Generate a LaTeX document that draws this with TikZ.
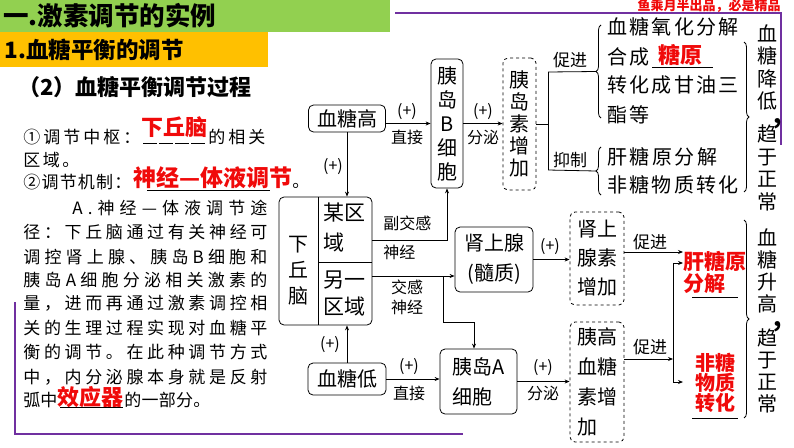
\documentclass[tikz,border=0pt]{standalone}
\usepackage{fontspec}
\setmainfont{Noto Sans CJK SC}
\usetikzlibrary{arrows.meta,calc,decorations.pathreplacing}
\definecolor{bargreen}{RGB}{146,208,80}
\definecolor{barorange}{RGB}{255,192,0}
\definecolor{keyred}{RGB}{240,10,10}
\definecolor{framepurple}{RGB}{112,48,160}
\newcommand\fs[2]{\fontsize{#1}{#2}\selectfont}
% spread the characters of a line over a given width
\ExplSyntaxOn
\NewDocumentCommand\spread{mm}{\hbox~to~#1{\tl_map_inline:nn{#2}{##1\hfil}\unskip}}
\ExplSyntaxOff
\tikzset{
  solidbox/.style={draw, rounded corners=5pt, inner sep=0pt, align=center, font=\fs{20}{25}},
  dashbox/.style={solidbox, dashed},
  lbl/.style={inner sep=0pt, font=\fs{16}{18}},
  keyword/.style={inner sep=0pt, text=keyred, font=\fs{22}{24}\bfseries},
  bodytext/.style={inner sep=0pt, anchor=west, font=\fs{17}{20}},
  listtext/.style={inner sep=0pt, anchor=west, font=\fs{20}{22}},
  comma/.style={inner sep=0pt, anchor=base, text height=5pt, text depth=6pt, font=\fs{24}{24}\bfseries},
  arr/.style={-{Stealth[length=5pt,width=4pt]}},
  curly/.style={decorate, decoration={brace, amplitude=5pt}},
  purpleframe/.style={framepurple, line width=2.2pt},
}
\begin{document}
\begin{tikzpicture}[x=1pt,y=-1pt, line width=0.8pt]
\useasboundingbox (0,0) rectangle (794,447);

% Title bars
\fill[bargreen] (0,0) rectangle (390,32);
\fill[barorange] (0,32) rectangle (268,67);
\node[inner sep=0pt, anchor=west, font=\fs{25.5}{27}\bfseries] (title) at (3,16) {一.激素调节的实例};
\node[inner sep=0pt, anchor=west, font=\fs{22.5}{24}\bfseries] (sub) at (4,50) {1.血糖平衡的调节};
\node[inner sep=0pt, anchor=west, font=\fs{22}{24}\bfseries] (sec) at (18,87) {（2）血糖平衡调节过程};
\node[inner sep=0pt, anchor=east, text=keyred, font=\fs{13}{13}\bfseries] (mark) at (781,6) {鱼乘月半出品，必是精品};

% Purple frames
\draw[purpleframe] (395,13) -- (781,13) -- (781,145);
\draw[purpleframe] (15,302) -- (15,434) -- (463,434);

% Left text
\node[bodytext] (c1) at (23,137) {\spread{117pt}{①调节中枢：}};
\node[keyword] (hyp) at (174,127) {下丘脑};
\draw[dash pattern=on 14pt off 2pt] (143,143) -- (206,143);
\node[bodytext] (c1b) at (208,137) {\spread{57pt}{的相关}};
\node[bodytext] (c1c) at (23,160) {\spread{56pt}{区域。}};
\node[bodytext] (c2) at (23,182) {\spread{108pt}{②调节机制：}};
\node[keyword, font=\fs{23}{25}\bfseries] (mech) at (213,178) {神经—体液调节};
\draw (147,190) -- (270,190);
\node[bodytext] (c2b) at (292,186) {。};

\node[bodytext] (p1) at (72,208) {\spread{195pt}{A.神经—体液调节途}};
\node[bodytext] (p2) at (23,232) {\spread{244pt}{径：下丘脑通过有关神经可}};
\node[bodytext] (p3) at (23,257) {\spread{244pt}{调控肾上腺、胰岛B细胞和}};
\node[bodytext] (p4) at (23,280) {\spread{244pt}{胰岛A细胞分泌相关激素的}};
\node[bodytext] (p5) at (23,303) {\spread{244pt}{量，进而再通过激素调控相}};
\node[bodytext] (p6) at (23,328) {\spread{244pt}{关的生理过程实现对血糖平}};
\node[bodytext] (p7) at (23,352) {\spread{244pt}{衡的调节。在此种调节方式}};
\node[bodytext] (p8) at (23,377) {\spread{244pt}{中，内分泌腺本身就是反射}};
\node[bodytext] (p9) at (23,400) {\spread{34pt}{弧中}};
\node[keyword] (eff) at (90,397) {效应器};
\draw (60,407) -- (123,407);
\node[bodytext] (p9b) at (124,400) {\spread{86pt}{的一部分。}};

% Boxes
\node[solidbox, minimum width=77pt, minimum height=27pt] (gao) at (347,118.5) {血糖高};
\node[solidbox, minimum width=32pt, minimum height=129pt, font=\fs{20}{24}] (Bcell) at (447,123.5) {胰\\岛\\B\\细\\胞};
\node[dashbox, minimum width=33pt, minimum height=132pt, font=\fs{20}{22}] (ins) at (519.5,124) {胰\\岛\\素\\增\\加};
\node[solidbox, minimum width=93pt, minimum height=128pt] (hypo) at (325.5,261) {};
\draw (318,197) -- (318,325);
\draw (318,262) -- (372,262);
\node[inner sep=0pt, align=center, font=\fs{20}{26}] (xqn) at (298.5,271) {下\\丘\\脑};
\node[inner sep=0pt, align=left, anchor=west, font=\fs{21}{30}] (regA) at (323,228) {某区\\域};
\node[inner sep=0pt, align=left, anchor=west, font=\fs{21}{27}] (regB) at (323,293.5) {另一\\区域};
\node[solidbox, minimum width=78pt, minimum height=32pt] (di) at (347,379) {血糖低};
\node[solidbox, minimum width=77pt, minimum height=65pt, align=left, font=\fs{20}{30}] (Acell) at (478.5,381.5) {胰岛A\\细胞};
\node[solidbox, minimum width=78pt, minimum height=65pt, font=\fs{20}{30}] (adr) at (494,259.5) {肾上腺\\(髓质)};
\node[dashbox, minimum width=54pt, minimum height=93pt, font=\fs{20}{29}] (adrInc) at (597,258.5) {肾上\\腺素\\增加};
\node[dashbox, minimum width=54pt, minimum height=120pt, align=left, font=\fs{20}{30}] (glu) at (597,382) {胰高\\血糖\\素增\\加};

% Connectors, upper path
\draw[arr] (gao.east |- Bcell.west) -- (Bcell.west);
\node[lbl] (l1) at (407,112) {(+)};
\node[lbl] (l2) at (407,137) {直接};
\draw[arr] (Bcell.east) -- (Bcell.east -| ins.west);
\node[lbl] (l3) at (483,112) {(+)};
\node[lbl] (l4) at (483,137) {分泌};
\draw[arr] (gao.south) -- (gao.south |- hypo.north);
\node[lbl] (l5) at (333,167) {(+)};

% Connectors, nerves
\coordinate (outA) at (372,240);
\coordinate (outB) at (372,276);
\coordinate (jB) at (443,276);
\coordinate (kB) at (474,322);
\draw[arr] (outA) -| (Bcell.south);
\node[lbl, anchor=west] (l6) at (383,223) {副交感};
\node[lbl, anchor=west] (l7) at (383,252) {神经};
\draw[arr] (outB) -- (outB -| adr.west);
\draw[arr] (jB) |- (kB) -- (kB |- Acell.north);
\node[lbl] (l8) at (407,287) {交感};
\node[lbl] (l9) at (407,307) {神经};

% Connectors, lower path
\draw[arr] (di.north) -- (di.north |- hypo.south);
\node[lbl] (l10) at (330,345) {(+)};
\draw[arr] (di.east) -- (di.east -| Acell.west);
\node[lbl] (l11) at (409,367) {(+)};
\node[lbl] (l12) at (409,393) {直接};
\draw[arr] (Acell.east) -- (Acell.east -| glu.west);
\node[lbl] (l13) at (543,368) {(+)};
\node[lbl] (l14) at (543,393) {分泌};
\draw[arr] (adr.east) -- (adr.east -| adrInc.west);
\node[lbl] (l15) at (550,247) {(+)};

% Insulin effects
\coordinate (brTop) at (548,72);
\coordinate (brBot) at (548,170);
\coordinate (tipU) at (596,71.5);
\coordinate (tipL) at (596,171);
\draw (ins.east) -- (ins.east -| brTop);
\draw (brTop) -- (brBot);
\draw (brTop) -- (tipU);
\draw (brBot) -- (tipL);
\node[lbl, font=\fs{17}{18}] (l16) at (570,60) {促进};
\node[lbl, font=\fs{17}{18}] (l17) at (570,160) {抑制};
\draw[curly] (601,118) -- (601,25);
\draw[curly] (601,195) -- (601,147);
\node[listtext] (e1) at (607,27) {\spread{131pt}{血糖氧化分解}};
\node[listtext] (e2) at (607,57) {\spread{42pt}{合成}};
\node[keyword] (gly) at (680,55) {糖原};
\draw (652,67) -- (713,67);
\node[listtext] (e3) at (607,85) {\spread{131pt}{转化成甘油三}};
\node[listtext] (e4) at (607,115) {\spread{42pt}{酯等}};
\node[listtext] (e5) at (607,157) {\spread{110pt}{肝糖原分解}};
\node[listtext] (e6) at (607,185) {\spread{131pt}{非糖物质转化}};
\draw[curly] (744,42) -- (744,192);
\node[inner sep=0pt, align=center, font=\fs{20}{22.5}] (down1) at (767,67.5) {血\\糖\\降\\低};
\node[comma] (down2) at (778,123) {,};
\node[inner sep=0pt, align=center, font=\fs{20}{22.5}] (down3) at (767,168) {趋\\于\\正\\常};

% Glucagon / adrenaline effects
\node[inner sep=0pt, anchor=west, align=left, text=keyred, font=\fs{21}{22}\bfseries] (liver) at (683,272) {肝糖原\\分解};
\draw (692,297) -- (738,297);
\node[inner sep=0pt, align=center, text=keyred, font=\fs{20}{20}\bfseries] (nonsug) at (715,383) {非糖\\物质\\转化};
\draw (692,418) -- (738,418);
\coordinate (adrOut) at ($(adrInc.east)+(0,-6.5)$);
\coordinate (gluOut) at ($(glu.east)+(0,-23)$);
\coordinate (vTop) at (673,263);
\coordinate (vBot) at (673,382);
\draw[arr] (adrOut) -- (adrOut -| liver.west);
\node[lbl, font=\fs{17}{18}] (l18) at (650,242) {促进};
\draw[arr] (gluOut) -- (gluOut -| vTop);
\node[lbl, font=\fs{17}{18}] (l19) at (650,347) {促进};
\draw (vTop) -- (vBot);
\draw[arr] (vTop) -- (vTop -| liver.west);
\draw[arr] (vBot) -- (vBot -| liver.west);
\draw[curly] (744,220) -- (744,418);
\node[inner sep=0pt, align=center, font=\fs{20}{22}] (up1) at (767,271) {血\\糖\\升\\高};
\node[comma] (up2) at (778,326) {,};
\node[inner sep=0pt, align=center, font=\fs{20}{22}] (up3) at (767,371) {趋\\于\\正\\常};

\end{tikzpicture}
\end{document}
